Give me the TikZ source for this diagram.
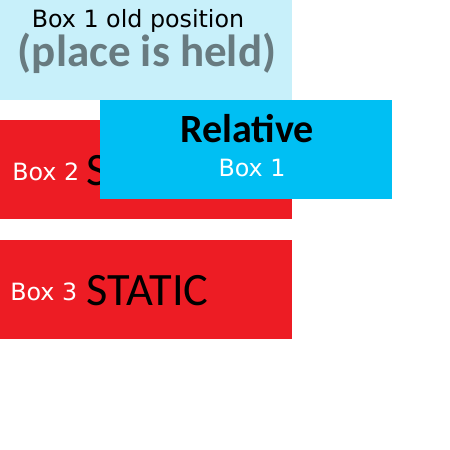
\documentclass[tikz,border=0pt]{standalone}
\usepackage{fontspec}
\newfontfamily\verdanalike{DejaVu Sans}
\newfontfamily\calibrilike{Carlito}
\usetikzlibrary{positioning}
\definecolor{oldblue}{RGB}{200, 240, 250}
\definecolor{relblue}{RGB}{0, 191, 243}
\definecolor{boxred}{RGB}{237, 28, 36}
\definecolor{heldgray}{RGB}{104, 123, 128}
\tikzset{
  small label/.style={inner sep=0pt, font=\verdanalike\fontsize{16.9}{18}\selectfont},
  big label/.style={inner sep=0pt, font=\calibrilike\fontsize{33}{35}\selectfont},
}

\begin{document}
\begin{tikzpicture}[x=0.025cm, y=-0.025cm]
  \useasboundingbox (0, 0) rectangle (450, 450);

  % Box 1, old position
  \fill[oldblue] (0, 0) rectangle (292, 100);
  \node[small label, anchor=base, text depth=0pt] (oldtitle) at (138, 27) {Box 1 old position};
  \node[big label, anchor=base, font=\calibrilike\bfseries\fontsize{32}{34}\selectfont, text=heldgray, text height=20pt] (held) at (147, 66) {(place is held)};

  % Box 2
  \fill[boxred] (0, 120) rectangle (292, 219);
  \node[small label, anchor=base west, text=white] (boxtwo) at (12, 180) {Box 2};
  \node[big label, anchor=base west] (statictwo) at (86, 185) {STATIC};

  % Box 3
  \fill[boxred] (0, 240) rectangle (292, 339);
  \node[small label, anchor=base west, text=white] (boxthree) at (10, 300) {Box 3};
  \node[big label, anchor=base west] (staticthree) at (86, 305) {STATIC};

  % Box 1, relative
  \fill[relblue] (100, 100) rectangle (392, 199);
  \node[big label, anchor=base, font=\calibrilike\bfseries\fontsize{28.5}{30}\selectfont] (relative) at (247, 142) {Relative};
  \node[small label, anchor=base, text=white] (boxone) at (252, 176) {Box 1};
\end{tikzpicture}
\end{document}
